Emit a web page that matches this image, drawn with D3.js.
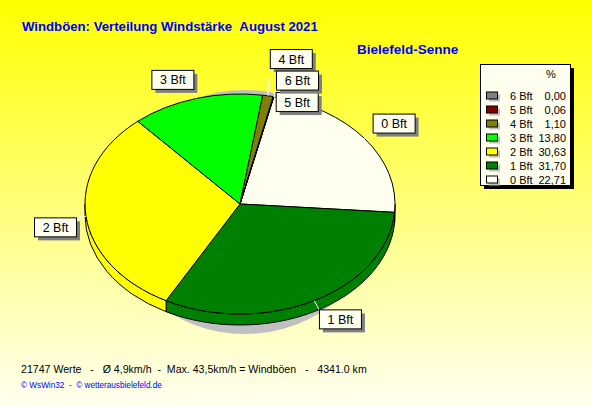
<!doctype html>
<html>
<head>
  <meta charset="utf-8">
  <title>Windböen: Verteilung Windstärke August 2021</title>
  <script src="https://cdn.jsdelivr.net/npm/d3@7/dist/d3.min.js"></script>
  <style>
  body { margin: 0; }
  svg { display: block; font-family: Arial, "Liberation Sans", sans-serif; }
  .edge { stroke: black; stroke-width: 1px; }
  .leader { stroke: white; stroke-width: 1px; fill: none; }
  </style>
</head>
<body>
  <script>
  // Windstaerke classes and their share (%)
  var categories = ["0 Bft", "1 Bft", "2 Bft", "3 Bft", "4 Bft", "5 Bft", "6 Bft"],
    percents = [22.71, 31.70, 30.63, 13.80, 1.10, 0.06, 0.00],
    percentLabels = ["22,71", "31,70", "30,63", "13,80", "1,10", "0,06", "0,00"],
    sliceColors = ["#fffff0", "#008000", "#ffff00", "#00ff00", "#808000", "#800000", "#808080"];

  var title = "Windböen: Verteilung Windstärke\u00a0\u00a0August 2021",
    station = "Bielefeld-Senne",
    footer = "21747 Werte\u00a0\u00a0\u00a0-\u00a0\u00a0\u00a0Ø 4,9km/h\u00a0\u00a0-\u00a0\u00a0Max. 43,5km/h = Windböen\u00a0\u00a0\u00a0-\u00a0\u00a0\u00a04341.0 km",
    credits = "© WsWin32\u00a0\u00a0-\u00a0\u00a0© wetterausbielefeld.de";

  var width = 592, height = 407,
    cx = 240, cy = 204, rx = 155, ry = 110, depth = 11;

  var svg = d3.select("body").append("svg")
      .attr("width", width)
      .attr("height", height);

  var grad = svg.append("defs").append("linearGradient")
      .attr("id", "bg").attr("x1", 0).attr("y1", 0).attr("x2", 0).attr("y2", 1);
  grad.append("stop").attr("offset", "0%").attr("stop-color", "#ffff00");
  grad.append("stop").attr("offset", "100%").attr("stop-color", "#fffff2");

  svg.append("rect")
    .attr("width", width).attr("height", height)
    .attr("fill", "url(#bg)");

  var color = d3.scaleOrdinal().domain(categories).range(sliceColors);

  var start = 12.6 * Math.PI / 180;
  var arcs = d3.pie().sort(null)
      .startAngle(start).endAngle(start + 2 * Math.PI)
      .value(function(d) { return d.value; })
      (categories.map(function(c, i) { return {name: c, value: percents[i]}; }));

  function pt(a, dy) {
    return [cx + rx * Math.sin(a), cy - ry * Math.cos(a) + (dy || 0)];
  }

  // shadow under the pie
  svg.append("ellipse")
    .attr("cx", cx + 5).attr("cy", cy + 8)
    .attr("rx", rx - 22).attr("ry", ry + 12)
    .attr("fill", "#c0c0c0");

  // side walls on the front half
  var lo = Math.PI / 2, hi = 3 * Math.PI / 2;
  arcs.forEach(function(d) {
    [0, 2 * Math.PI].forEach(function(shift) {
      var a0 = Math.max(d.startAngle - shift, lo), a1 = Math.min(d.endAngle - shift, hi);
      if (a1 <= a0) return;
      var p0 = pt(a0), p1 = pt(a1), q1 = pt(a1, depth), q0 = pt(a0, depth);
      svg.append("path")
        .attr("class", "edge")
        .attr("fill", color(d.data.name))
        .attr("d", "M" + p0 + "A" + rx + "," + ry + " 0 0 1 " + p1 +
          "L" + q1 + "A" + rx + "," + ry + " 0 0 0 " + q0 + "Z");
    });
  });

  // top surface
  svg.selectAll("path.slice")
    .data(arcs)
    .enter().append("path")
      .attr("class", "slice edge")
      .attr("fill", function(d) { return color(d.data.name); })
      .attr("d", function(d) {
        var p0 = pt(d.startAngle), p1 = pt(d.endAngle),
          large = d.endAngle - d.startAngle > Math.PI ? 1 : 0;
        return "M" + cx + "," + cy + "L" + p0 + "A" + rx + "," + ry + " 0 " + large + " 1 " + p1 + "Z";
      });

  // label boxes
  var boxW = 42, boxH = 19, gap = 10;
  var labels = arcs.map(function(d) {
    var a = (d.startAngle + d.endAngle) / 2,
      s = Math.sin(a), c = Math.cos(a),
      p = pt(a),
      lx = p[0] + gap * s, ly = p[1] - gap * c,
      x = s > 0 ? lx : lx - boxW,
      y = c > 0 ? ly - boxH : ly;
    return {name: d.data.name, value: d.data.value, p: p, x: x, y: y};
  });

  // spread labels that sit on top of each other
  var cluster = labels.filter(function(l) {
    return labels.some(function(m) {
      return m !== l && Math.abs(m.x - l.x) < boxW && Math.abs(m.y - l.y) < boxH;
    });
  });
  if (cluster.length) {
    var midY = d3.mean(cluster, function(l) { return l.y; }) + 3,
      slots = [-1, 1, 0];
    cluster.forEach(function(l, i) {
      l.y = midY + slots[i % 3] * (boxH + 2.5) * (1 + Math.floor(i / 3));
    });
  }

  labels.forEach(function(l) {
    var ex = Math.max(l.x, Math.min(l.p[0], l.x + boxW)),
      ey = Math.max(l.y, Math.min(l.p[1], l.y + boxH));
    svg.append("line")
      .attr("class", "leader")
      .attr("x1", l.p[0]).attr("y1", l.p[1])
      .attr("x2", ex).attr("y2", ey);
  });

  var lab = svg.selectAll("g.lab")
    .data(labels)
    .enter().append("g")
      .attr("class", "lab")
      .attr("transform", function(l) { return "translate(" + l.x + "," + l.y + ")"; });
  lab.append("rect")
    .attr("x", 4).attr("y", 4).attr("width", boxW).attr("height", boxH)
    .attr("fill", "#808080");
  lab.append("rect")
    .attr("x", 0.5).attr("y", 0.5).attr("width", boxW).attr("height", boxH)
    .attr("fill", "#fffff0").attr("stroke", "black");
  lab.append("text")
    .attr("x", boxW / 2 + 0.5).attr("y", boxH / 2 + 5)
    .attr("text-anchor", "middle")
    .attr("font-size", "12.5px")
    .text(function(l) { return l.name; });

  // legend
  var legend = svg.append("g").attr("transform", "translate(480,64)");
  legend.append("rect")
    .attr("x", 4).attr("y", 4).attr("width", 90).attr("height", 121)
    .attr("fill", "black");
  legend.append("rect")
    .attr("x", 0.5).attr("y", 0.5).attr("width", 90).attr("height", 121)
    .attr("fill", "#fffff0").attr("stroke", "black");
  legend.append("text")
    .attr("x", 71).attr("y", 14)
    .attr("text-anchor", "middle").attr("font-size", "11px")
    .text("%");

  var rowY = d3.scalePoint()
    .domain(categories.slice().reverse())
    .range([31.5, 115.5]);

  var row = legend.selectAll("g.row")
    .data(categories.map(function(c, i) { return {name: c, label: percentLabels[i]}; }))
    .enter().append("g")
      .attr("class", "row")
      .attr("transform", function(d) { return "translate(0," + rowY(d.name) + ")"; });
  row.append("rect")
    .attr("x", 9).attr("y", -1).attr("width", 11).attr("height", 7)
    .attr("fill", "#c0c0c0");
  row.append("rect")
    .attr("x", 6.5).attr("y", -3.5).attr("width", 11).attr("height", 7)
    .attr("fill", function(d) { return color(d.name); })
    .attr("stroke", "black");
  row.append("text")
    .attr("x", 30).attr("y", 4).attr("font-size", "11px")
    .text(function(d) { return d.name; });
  row.append("text")
    .attr("x", 86).attr("y", 4).attr("text-anchor", "end").attr("font-size", "11px")
    .text(function(d) { return d.label; });

  // titles
  svg.append("text")
    .attr("x", 22).attr("y", 30.5)
    .attr("fill", "#0000ff").attr("font-weight", "bold").attr("font-size", "13.2px")
    .text(title);
  svg.append("text")
    .attr("x", 357).attr("y", 54)
    .attr("fill", "#0000ff").attr("font-weight", "bold").attr("font-size", "13.5px")
    .text(station);

  svg.append("text")
    .attr("x", 21).attr("y", 373)
    .attr("fill", "black").attr("font-size", "10.6px")
    .text(footer);
  svg.append("text")
    .attr("x", 21).attr("y", 388)
    .attr("fill", "#0000ff").attr("font-size", "8.2px")
    .text(credits);
  </script>
</body>
</html>
